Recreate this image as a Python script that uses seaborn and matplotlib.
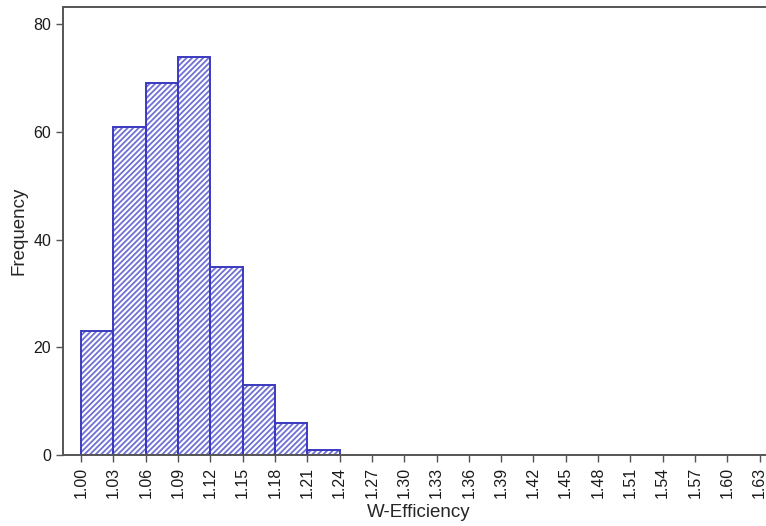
import numpy as np
import pandas as pd
import matplotlib
matplotlib.use("Agg")
import matplotlib.pyplot as plt
import seaborn as sns

# Histogram of W-Efficiency: bin edges (step 0.03) and counts per bin
bin_edges = [1.00, 1.03, 1.06, 1.09, 1.12, 1.15, 1.18, 1.21, 1.24]
counts = [23, 61, 69, 74, 35, 13, 6, 1]
tick_labels = ["1.00", "1.03", "1.06", "1.09", "1.12", "1.15", "1.18", "1.21",
               "1.24", "1.27", "1.30", "1.33", "1.36", "1.39", "1.42", "1.45",
               "1.48", "1.51", "1.54", "1.57", "1.60", "1.63"]
y_ticks = [0, 20, 40, 60, 80]

sns.set_theme(style="ticks")
plt.rcParams["font.family"] = ["Liberation Sans", "DejaVu Sans"]
plt.rcParams["hatch.linewidth"] = 1.3

centers = [(a + b) / 2 for a, b in zip(bin_edges[:-1], bin_edges[1:])]
df = pd.DataFrame({"W-Efficiency": centers, "Frequency": counts})

fig = plt.figure(figsize=(7.66, 5.26), dpi=100)
ax = fig.add_axes([63 / 766, 71 / 526, 1 - 63 / 766 + 0.01, 448 / 526])

hatch_color = "#7070d4"
outline_color = "#3a3abf"

# hatched fill
sns.histplot(data=df, x="W-Efficiency", weights="Frequency", bins=bin_edges,
             ax=ax, stat="count", fill=True, color="white", alpha=1.0,
             edgecolor=hatch_color, linewidth=0)
for p in ax.patches:
    p.set_facecolor("white")
    p.set_edgecolor(hatch_color)
    p.set_linewidth(0)
    p.set_hatch("//////")

# bar outlines
sns.histplot(data=df, x="W-Efficiency", weights="Frequency", bins=bin_edges,
             ax=ax, stat="count", fill=False, color=outline_color,
             linewidth=1.4)

ticks = [float(t) for t in tick_labels]
ax.set_xticks(ticks)
ax.set_xticklabels(tick_labels, rotation=90, fontsize=11.5)
ax.set_yticks(y_ticks)
ax.set_yticklabels([str(v) for v in y_ticks], fontsize=11.5)
ax.set_xlim(1.00 - 18 / 1065, 1.63 + 14 / 1065)
ax.set_ylim(0, 83.2)
ax.set_xlabel("W-Efficiency", fontsize=13.5)
ax.set_ylabel("Frequency", fontsize=13.5)

for side in ["left", "bottom", "top"]:
    ax.spines[side].set_color("#555555")
    ax.spines[side].set_linewidth(1.4)
ax.spines["right"].set_visible(False)
ax.tick_params(axis="both", direction="out", length=5, width=1,
               color="#555555", labelcolor="#1a1a1a")

fig.savefig("out.png", dpi=100)
